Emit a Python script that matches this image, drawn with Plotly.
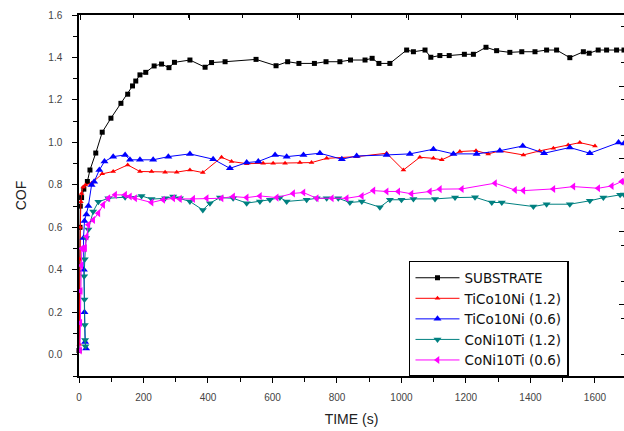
import plotly.graph_objects as go

# ---- data ----
sub_t = [0, 2, 3, 4, 8, 15, 26, 34, 52, 72, 99, 130, 151, 166, 176, 189, 207, 233, 256, 279, 296, 344, 391, 411, 453, 549, 611, 647, 682, 730, 766, 809, 842, 887, 909, 930, 964, 1016, 1037, 1073, 1091, 1119, 1148, 1195, 1223, 1262, 1295, 1336, 1373, 1414, 1450, 1481, 1522, 1564, 1582, 1610, 1636, 1667, 1690]
sub_v = [0.02, 0.3, 0.6, 0.7, 0.74, 0.78, 0.816, 0.87, 0.95, 1.048, 1.114, 1.184, 1.227, 1.266, 1.289, 1.318, 1.330, 1.36, 1.369, 1.352, 1.377, 1.388, 1.354, 1.376, 1.38, 1.391, 1.361, 1.38, 1.372, 1.372, 1.38, 1.38, 1.388, 1.388, 1.396, 1.372, 1.372, 1.435, 1.427, 1.435, 1.401, 1.409, 1.409, 1.415, 1.415, 1.448, 1.432, 1.424, 1.427, 1.427, 1.435, 1.435, 1.399, 1.427, 1.42, 1.435, 1.435, 1.435, 1.435]

r12_t = [1, 2, 4, 6, 8, 13, 20, 39, 72, 106, 151, 189, 225, 267, 303, 344, 384, 442, 473, 520, 571, 602, 639, 685, 721, 768, 861, 954, 1006, 1057, 1099, 1125, 1181, 1231, 1269, 1305, 1378, 1428, 1471, 1517, 1553, 1600]
r12_v = [0.05, 0.45, 0.6, 0.72, 0.76, 0.79, 0.8, 0.808, 0.852, 0.863, 0.894, 0.863, 0.863, 0.86, 0.86, 0.87, 0.858, 0.93, 0.91, 0.9, 0.902, 0.902, 0.902, 0.905, 0.905, 0.925, 0.933, 0.949, 0.87, 0.93, 0.925, 0.918, 0.957, 0.961, 0.946, 0.96, 0.941, 0.96, 0.973, 0.988, 0.999, 0.983]

b06_t = [22, 19, 17, 15, 14, 17, 23, 29, 39, 47, 63, 79, 106, 143, 158, 189, 230, 277, 344, 416, 468, 520, 556, 608, 644, 696, 747, 815, 861, 954, 1026, 1099, 1161, 1233, 1305, 1376, 1442, 1522, 1584, 1673, 1690]
b06_v = [0.03, 0.06, 0.2, 0.4, 0.55, 0.63, 0.66, 0.7, 0.8, 0.815, 0.87, 0.91, 0.933, 0.941, 0.918, 0.918, 0.918, 0.933, 0.946, 0.921, 0.878, 0.905, 0.91, 0.941, 0.933, 0.941, 0.949, 0.921, 0.936, 0.941, 0.946, 0.968, 0.946, 0.946, 0.961, 0.983, 0.949, 0.976, 0.949, 0.999, 0.995]

t12_t = [20, 19, 18, 17, 16, 18, 22, 29, 44, 60, 91, 143, 194, 225, 267, 292, 313, 344, 384, 406, 437, 478, 520, 561, 592, 623, 644, 706, 737, 768, 804, 840, 877, 933, 964, 1000, 1037, 1104, 1166, 1228, 1280, 1311, 1409, 1450, 1522, 1584, 1626, 1678, 1690]
t12_v = [0.04, 0.07, 0.14, 0.26, 0.37, 0.45, 0.55, 0.59, 0.675, 0.72, 0.737, 0.742, 0.748, 0.733, 0.737, 0.745, 0.737, 0.722, 0.682, 0.714, 0.74, 0.737, 0.714, 0.722, 0.73, 0.74, 0.722, 0.73, 0.737, 0.737, 0.737, 0.717, 0.722, 0.695, 0.73, 0.73, 0.734, 0.734, 0.74, 0.742, 0.717, 0.717, 0.698, 0.709, 0.709, 0.725, 0.74, 0.753, 0.755]

m06_t = [3, 4, 5, 7, 9, 14, 19, 24, 29, 44, 60, 75, 91, 112, 143, 158, 174, 225, 261, 292, 313, 354, 396, 442, 478, 520, 561, 613, 664, 696, 737, 784, 830, 877, 913, 954, 990, 1031, 1088, 1119, 1187, 1290, 1352, 1378, 1471, 1533, 1610, 1652, 1683, 1690]
m06_v = [0.02, 0.15, 0.3, 0.42, 0.5, 0.5, 0.502, 0.557, 0.612, 0.635, 0.667, 0.706, 0.737, 0.753, 0.753, 0.745, 0.737, 0.717, 0.73, 0.737, 0.734, 0.734, 0.737, 0.737, 0.745, 0.74, 0.748, 0.74, 0.76, 0.764, 0.737, 0.737, 0.737, 0.748, 0.773, 0.769, 0.769, 0.758, 0.769, 0.78, 0.781, 0.808, 0.776, 0.773, 0.781, 0.792, 0.784, 0.795, 0.816, 0.816]

series = [
    ("SUBSTRATE", sub_t, sub_v, "#000000", "square", 5),
    ("TiCo10Ni (1.2)", r12_t, r12_v, "#FF0000", "triangle-up", 5),
    ("TiCo10Ni (0.6)", b06_t, b06_v, "#0000FF", "triangle-up", 7),
    ("CoNi10Ti (1.2)", t12_t, t12_v, "#008080", "triangle-down", 7),
    ("CoNi10Ti (0.6)", m06_t, m06_v, "#FF00FF", "triangle-left", 7),
]

fig = go.Figure()
for name, t, v, col, sym, sz in series:
    fig.add_trace(go.Scatter(
        x=t, y=v, name=name, mode="lines+markers",
        line=dict(color=col, width=1),
        marker=dict(color=col, symbol=sym, size=sz, line=dict(width=0)),
        cliponaxis=False,
    ))

# empty trace so the top/right frame axes are drawn
fig.add_trace(go.Scatter(x=[None], y=[None], xaxis="x2", yaxis="y2",
                         showlegend=False, hoverinfo="skip", mode="lines"))

tickfont = dict(family="Liberation Sans, Arial, sans-serif", size=10, color="#444444")
titlefont = dict(family="Liberation Sans, Arial, sans-serif", size=14, color="#222222")

fig.update_layout(
    width=624, height=431,
    margin=dict(l=79, r=0, t=15, b=55),
    paper_bgcolor="white", plot_bgcolor="white",
    showlegend=True,
    legend=dict(
        x=0.6055, y=0.3186, xanchor="left", yanchor="top",
        bordercolor="#000000", borderwidth=1.5, bgcolor="white",
        font=dict(family="DejaVu Sans, sans-serif", size=13.5, color="#111111"),
        itemwidth=44, tracegroupgap=0,
    ),
    xaxis=dict(
        range=[0, 1690], showgrid=False, zeroline=False, automargin=False,
        showline=True, linecolor="black", linewidth=1.5,
        ticks="outside", ticklen=5, tickwidth=1.2, tickcolor="black",
        tick0=0, dtick=200, tickfont=tickfont, ticklabelstandoff=6,
        minor=dict(dtick=100, ticks="outside", ticklen=4, tickcolor="black", tickwidth=1.2),
        title=dict(text="TIME (s)", font=titlefont, standoff=12),
    ),
    xaxis2=dict(
        overlaying="x", side="top", range=[0, 1690], showgrid=False, zeroline=False,
        automargin=False, anchor="y2",
        showline=True, linecolor="black", linewidth=1.5,
        ticks="inside", ticklen=5, tickwidth=1.2, tickcolor="black",
        tick0=344, dtick=338.5, showticklabels=False,
        minor=dict(dtick=169.25, ticks="inside", ticklen=3, tickcolor="black", tickwidth=1.2),
    ),
    yaxis=dict(
        range=[-0.1, 1.6], showgrid=False, zeroline=False, automargin=False,
        showline=True, linecolor="black", linewidth=1.5,
        ticks="outside", ticklen=5, tickwidth=1.2, tickcolor="black",
        tick0=0, dtick=0.2, tickformat=".1f", tickfont=tickfont, ticklabelstandoff=8,
        minor=dict(dtick=0.1, ticks="outside", ticklen=4, tickcolor="black", tickwidth=1.2),
        title=dict(text="COF", font=titlefont, standoff=18),
    ),
    yaxis2=dict(
        overlaying="y", side="right", range=[-0.1, 1.6], showgrid=False, zeroline=False,
        automargin=False, anchor="x2",
        showline=False, ticks="inside", ticklen=5, tickwidth=1.2, tickcolor="black",
        tick0=0.235, dtick=0.3435, showticklabels=False,
        minor=dict(dtick=0.17175, ticks="inside", ticklen=3, tickcolor="black", tickwidth=1.2),
    ),
)

fig.write_html("out.html", config={"displayModeBar": False},
               post_script="document.body.style.margin='0';document.body.style.overflow='hidden';")
